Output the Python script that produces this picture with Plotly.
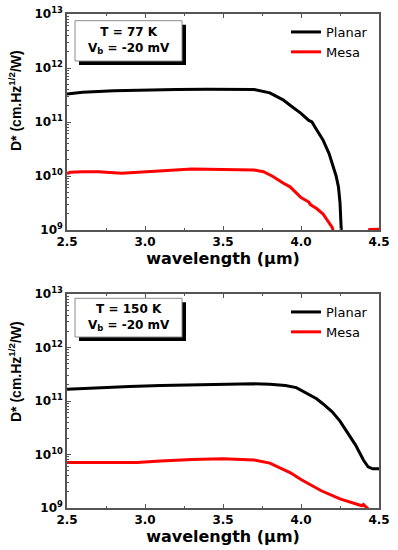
import plotly.graph_objects as go

# ---------------- data ----------------
wl_planar_77 = [2.5, 2.6, 2.8, 3.0, 3.2, 3.4, 3.6, 3.7, 3.8, 3.885, 3.93, 4.0, 4.05, 4.07,
                4.1, 4.14, 4.18, 4.205, 4.225, 4.24, 4.25, 4.258, 4.265]
d_planar_77 = [3.3e11, 3.55e11, 3.8e11, 3.95e11, 4.0e11, 4.05e11, 4.05e11, 4.0e11, 3.47e11,
               2.57e11, 2.04e11, 1.45e11, 1.07e11, 1.0e11, 7.2e10, 4.7e10, 2.6e10, 1.5e10,
               1.0e10, 6.3e9, 3.2e9, 1.0e9, 3.0e8]

wl_mesa_77 = [2.5, 2.52, 2.6, 2.7, 2.85, 3.0, 3.15, 3.3, 3.5, 3.7, 3.76, 3.82, 3.885, 3.93,
              4.0, 4.05, 4.06, 4.1, 4.14, 4.2, 4.215, 4.3, 4.43, 4.44, 4.5]
d_mesa_77 = [1.1e10, 1.17e10, 1.2e10, 1.2e10, 1.12e10, 1.2e10, 1.29e10, 1.35e10, 1.32e10,
             1.29e10, 1.2e10, 9.8e9, 7.4e9, 6.3e9, 4.0e9, 3.3e9, 2.95e9, 2.5e9, 2.0e9,
             1.12e9, 8.0e8, 4.0e8, 8.0e8, 1.02e9, 1.03e9]

wl_planar_150 = [2.5, 2.7, 2.9, 3.1, 3.3, 3.5, 3.7, 3.8, 3.9, 3.97, 4.06, 4.1, 4.14, 4.2,
                 4.25, 4.3, 4.35, 4.4, 4.43, 4.46, 4.5]
d_planar_150 = [1.66e11, 1.78e11, 1.86e11, 1.95e11, 2.0e11, 2.04e11, 2.09e11, 2.05e11,
                1.95e11, 1.78e11, 1.3e11, 1.1e11, 8.9e10, 6.3e10, 4.2e10, 2.5e10,
                1.5e10, 7.9e9, 5.9e9, 5.4e9, 5.4e9]

wl_mesa_150 = [2.5, 2.7, 2.95, 3.1, 3.3, 3.5, 3.7, 3.8, 3.87, 3.93, 4.0, 4.13, 4.25, 4.35,
               4.39, 4.4, 4.42, 4.44, 4.46]
d_mesa_150 = [7.1e9, 7.1e9, 7.1e9, 7.6e9, 8.1e9, 8.3e9, 7.9e9, 6.9e9, 5.6e9, 4.6e9, 3.4e9,
              2.1e9, 1.48e9, 1.17e9, 1.1e9, 1.16e9, 1.02e9, 9.0e8, 8.0e8]

x_ticks = [2.5, 3.0, 3.5, 4.0, 4.5]
x_tick_labels = ["2.5", "3.0", "3.5", "4.0", "4.5"]
y_ticks = [1e9, 1e10, 1e11, 1e12, 1e13]
y_tick_labels = ["10<sup>9</sup>", "10<sup>10</sup>", "10<sup>11</sup>",
                 "10<sup>12</sup>", "10<sup>13</sup>"]
x_title = "wavelength (\u03bcm)"
y_title = "D* (cm.Hz<sup>1/2</sup>/W)"
box_texts = ["T = 77 K<br>V<sub>b</sub> = -20 mV", "T = 150 K<br>V<sub>b</sub> = -20 mV"]
series_names = ["Planar", "Mesa"]
series_colors = ["black", "#ff0000"]

# ---------------- figure ----------------
W, H = 398, 550
fig = go.Figure()

fig.add_trace(go.Scatter(x=wl_planar_77, y=d_planar_77, mode="lines", name=series_names[0],
                         line=dict(color=series_colors[0], width=3), xaxis="x", yaxis="y",
                         legend="legend"))
fig.add_trace(go.Scatter(x=wl_mesa_77, y=d_mesa_77, mode="lines", name=series_names[1],
                         line=dict(color=series_colors[1], width=3), xaxis="x", yaxis="y",
                         legend="legend"))
fig.add_trace(go.Scatter(x=wl_planar_150, y=d_planar_150, mode="lines", name=series_names[0],
                         line=dict(color=series_colors[0], width=3), xaxis="x2", yaxis="y2",
                         legend="legend2"))
fig.add_trace(go.Scatter(x=wl_mesa_150, y=d_mesa_150, mode="lines", name=series_names[1],
                         line=dict(color=series_colors[1], width=3), xaxis="x2", yaxis="y2",
                         legend="legend2"))

xdom = [67 / W, 379 / W]
ydom_top = [(H - 230) / H, (H - 14) / H]
ydom_bot = [(H - 508) / H, (H - 294) / H]

axis_col = "#555555"
tickfont = dict(family="DejaVu Sans", size=12, color="black", weight="bold")
title_font = dict(family="DejaVu Sans", size=16, color="black", weight="bold")
minor_y = [m * 10 ** e for e in range(9, 13) for m in range(2, 10)]


def xaxis_cfg(dom_anchor):
    return dict(domain=xdom, anchor=dom_anchor, range=[2.5, 4.5], tickmode="array",
                tickvals=x_ticks, ticktext=x_tick_labels, ticks="inside", ticklen=4,
                tickwidth=1.2, tickcolor=axis_col, showline=True, linecolor=axis_col,
                linewidth=1.5, mirror="ticks", showgrid=False, zeroline=False,
                tickfont=tickfont, automargin=False,
                minor=dict(tickvals=[2.75, 3.25, 3.75, 4.25], ticks="inside", ticklen=2,
                           tickcolor=axis_col, showgrid=False),
                title=dict(text=x_title, font=title_font, standoff=2))


def yaxis_cfg(dom, anchor):
    return dict(domain=dom, anchor=anchor, type="log", range=[9, 13], tickmode="array",
                tickvals=y_ticks, ticktext=y_tick_labels, ticks="inside", ticklen=4,
                tickwidth=1.2, tickcolor=axis_col, showline=True, linecolor=axis_col,
                linewidth=1.5, mirror=True, showgrid=False, zeroline=False,
                tickfont=tickfont, automargin=False,
                minor=dict(tickvals=minor_y, ticks="inside", ticklen=2.5,
                           tickcolor=axis_col, showgrid=False))


legend_font = dict(family="DejaVu Sans", size=13, color="black")

fig.update_layout(
    width=W, height=H,
    margin=dict(l=0, r=0, t=0, b=0),
    paper_bgcolor="white", plot_bgcolor="white",
    xaxis=xaxis_cfg("y"),
    yaxis=yaxis_cfg(ydom_top, "x"),
    xaxis2=xaxis_cfg("y2"),
    yaxis2=yaxis_cfg(ydom_bot, "x2"),
    legend=dict(x=286 / W, y=(H - 17) / H, xanchor="left", yanchor="top",
                font=legend_font, bgcolor="rgba(0,0,0,0)", borderwidth=0,
                tracegroupgap=0),
    legend2=dict(x=286 / W, y=(H - 297) / H, xanchor="left", yanchor="top",
                 font=legend_font, bgcolor="rgba(0,0,0,0)", borderwidth=0,
                 tracegroupgap=0),
    showlegend=True,
)

# y-axis titles as rotated annotations
for yc in [(H - 101) / H, (H - 372) / H]:
    fig.add_annotation(xref="paper", yref="paper", x=15 / W, y=yc, text=y_title,
                       textangle=-90, showarrow=False, xanchor="center", yanchor="middle",
                       font=dict(family="Liberation Sans", size=14, color="black",
                                 weight="bold"))

# text boxes with drop shadow
boxes = [("x domain", "y domain", (6.7, 47, 216)), ("x2 domain", "y2 domain", (4.3, 43, 214))]
for (xr, yr, (top_px, bot_px, h_px)), txt in zip(boxes, box_texts):
    x0, x1 = (75 - 67) / 312, (182 - 67) / 312
    y1, y0 = 1 - top_px / h_px, 1 - bot_px / h_px
    sx, sy = 4 / 312, 4 / h_px
    fig.add_shape(type="rect", xref=xr, yref=yr, x0=x0 + sx, x1=x1 + sx, y0=y0 - sy,
                  y1=y1 - sy, fillcolor="black", line=dict(width=0), layer="above")
    fig.add_shape(type="rect", xref=xr, yref=yr, x0=x0, x1=x1, y0=y0, y1=y1,
                  fillcolor="white", line=dict(color="#8a8a8a", width=1), layer="above")
    fig.add_annotation(xref=xr, yref=yr, x=(x0 + x1) / 2, y=(y0 + y1) / 2, text=txt,
                       showarrow=False, xanchor="center", yanchor="middle",
                       font=dict(family="DejaVu Sans", size=12, color="black",
                                 weight="bold"))

fig.write_html("out.html", config={"displayModeBar": False},
               post_script="document.body.style.margin='0';document.body.style.overflow='hidden';")
